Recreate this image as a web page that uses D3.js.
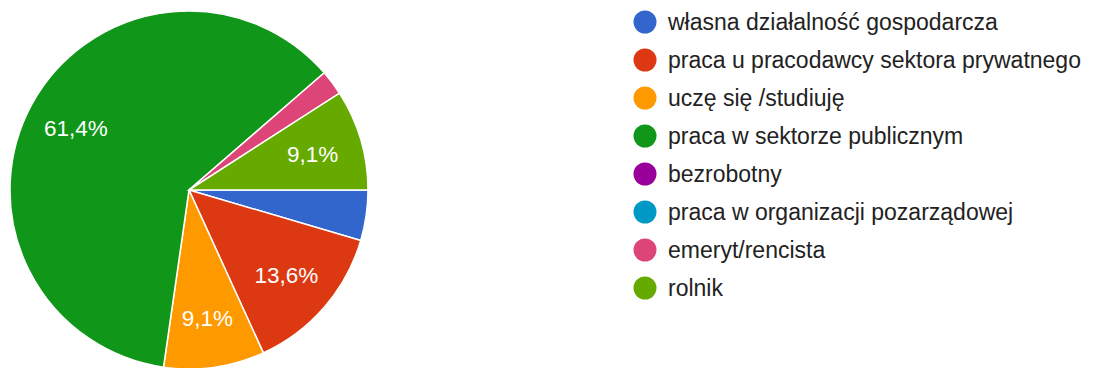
<!DOCTYPE html>
<html><head><meta charset="utf-8">
<script src="https://cdn.jsdelivr.net/npm/d3@7"></script>
<style>html,body{margin:0;padding:0;background:#fff;}svg{display:block;}</style>
</head><body>
<svg id="chart" width="1094" height="368"></svg>
<script>
const categories = ["własna działalność gospodarcza","praca u pracodawcy sektora prywatnego","uczę się /studiuję","praca w sektorze publicznym","bezrobotny","praca w organizacji pozarządowej","emeryt/rencista","rolnik"];
const counts = [2, 6, 4, 27, 0, 0, 1, 4];
const colors = ["#3366cc","#dc3912","#ff9900","#109618","#990099","#0099c6","#dd4477","#66aa00"];

const svg = d3.select("#chart");
const font = "Arial, 'Liberation Sans', sans-serif";
const cx = 189, cy = 190, r = 179;
const total = d3.sum(counts);
const data = categories.map((c,i)=>({name:c, value:counts[i], color:colors[i]}));
const pie = d3.pie().value(d=>d.value).sort(null).startAngle(Math.PI/2).endAngle(Math.PI/2 + 2*Math.PI);
const arcs = pie(data);
const arc = d3.arc().innerRadius(0).outerRadius(r);
const labelArc = d3.arc().innerRadius(r*0.72).outerRadius(r*0.72);
const g = svg.append("g").attr("transform", `translate(${cx},${cy})`);
g.selectAll("path").data(arcs.filter(a=>a.data.value>0)).join("path")
  .attr("d", arc).attr("fill", d=>d.data.color).attr("stroke","#fff").attr("stroke-width",1.5);
const fmt = v => (v/total*100).toFixed(1).replace(".", ",") + "%";
g.selectAll("text").data(arcs.filter(a=>a.data.value/total>0.05)).join("text")
  .attr("transform", d=>`translate(${labelArc.centroid(d)})`)
  .attr("text-anchor","middle").attr("dy","0.36em")
  .attr("font-family", font).attr("font-size", 22.5).attr("fill","#fff")
  .text(d=>fmt(d.data.value));

const y = d3.scalePoint().domain(categories).range([22, 288]);
const lg = svg.append("g");
const items = lg.selectAll("g").data(data).join("g").attr("transform", d=>`translate(645,${y(d.name)})`);
items.append("circle").attr("r", 11.5).attr("fill", d=>d.color);
items.append("text").attr("x", 23).attr("dy","0.35em")
  .attr("font-family", font).attr("font-size", 23).attr("fill","#222")
  .text(d=>d.name);
</script>
</body></html>
